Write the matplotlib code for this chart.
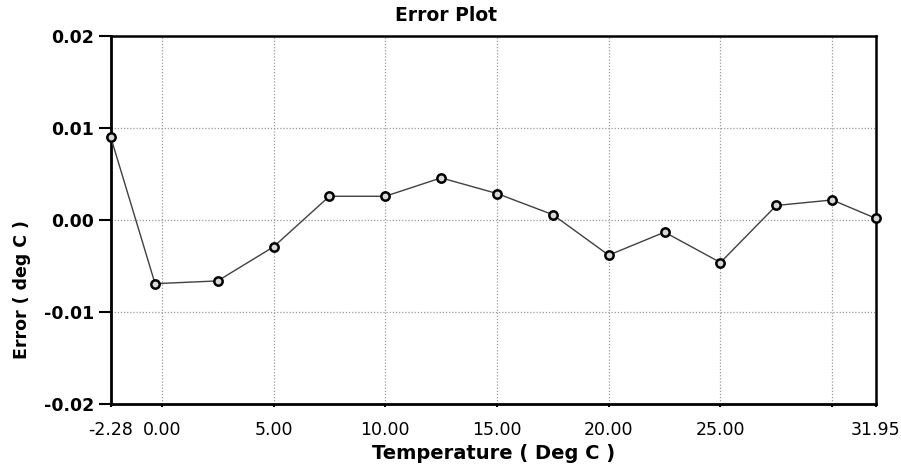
import numpy as np
import matplotlib
matplotlib.use("Agg")
import matplotlib.pyplot as plt

# values
temp = [-2.28, -0.3, 2.5, 5.0, 7.5, 10.0, 12.5, 15.0, 17.5, 20.0, 22.5, 25.0, 27.5, 30.0, 31.95]
error = [0.0090, -0.0069, -0.0066, -0.0029, 0.0026, 0.0026, 0.0046, 0.0029,
         0.0006, -0.0038, -0.0013, -0.0046, 0.0016, 0.0022, 0.0002]

x_ticks = [-2.28, 0, 5, 10, 15, 20, 25, 30, 31.95]
x_tick_labels = ['-2.28', '0.00', '5.00', '10.00', '15.00', '20.00', '25.00', '', '31.95']
y_ticks = [-0.02, -0.01, 0.0, 0.01, 0.02]
y_tick_labels = ['-0.02', '-0.01', '0.00', '0.01', '0.02']
grid_x = [0, 5, 10, 15, 20, 25, 30]
grid_y = [-0.01, 0.0, 0.01]


def main():
    fig = plt.figure(figsize=(9.01, 4.70), dpi=100)
    ax = fig.add_axes([0.123, 0.140, 0.849, 0.783])

    # dotted grid
    for g in grid_x:
        ax.axvline(g, color='#9a9a9a', lw=0.9, ls=(0, (1, 1.5)), zorder=0)
    for g in grid_y:
        ax.axhline(g, color='#9a9a9a', lw=0.9, ls=(0, (1, 1.5)), zorder=0)

    ax.plot(temp, error, color='#404040', lw=1.0, marker='o', markersize=6,
            markerfacecolor='#d8d8d8', markeredgecolor='black', markeredgewidth=1.8,
            clip_on=False, zorder=3)

    ax.set_xlim(-2.28, 31.95)
    ax.set_ylim(-0.02, 0.02)

    ax.set_xticks(x_ticks)
    ax.set_xticklabels(x_tick_labels, fontsize=12.5)
    ax.set_yticks(y_ticks)
    ax.set_yticklabels(y_tick_labels, fontsize=12.5, fontweight='semibold')
    ax.tick_params(axis='x', direction='out', length=2, width=1.5, pad=10, colors='black')
    ax.tick_params(axis='y', direction='out', length=9, width=1.5, pad=3)

    for side in ['left', 'bottom']:
        ax.spines[side].set_linewidth(2.0)
    for side in ['top', 'right']:
        ax.spines[side].set_linewidth(1.8)

    fig.text(0.495, 0.968, 'Error Plot', ha='center', va='center',
             fontsize=13.5, fontweight='bold')
    ax.set_xlabel('Temperature ( Deg C )', fontsize=14, fontweight='bold', labelpad=4)
    fig.text(0.024, 0.383, 'Error ( deg C )', ha='center', va='center', rotation=90,
             fontsize=12.5, fontweight='bold')

    fig.savefig('out.png', dpi=100)


if __name__ == "__main__":
    main()
